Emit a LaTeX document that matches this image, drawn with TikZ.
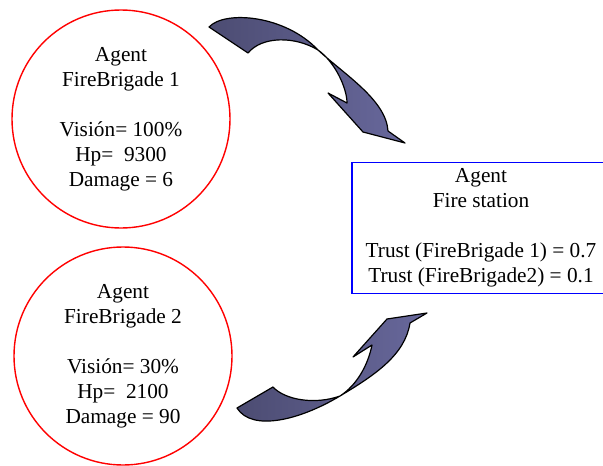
\documentclass[tikz,border=0pt]{standalone}
\usepackage{fontspec}
\setmainfont{Liberation Serif}
\usetikzlibrary{positioning}

\definecolor{arrowdark}{RGB}{76,76,114}
\definecolor{arrowlight}{RGB}{104,104,156}

\begin{document}
\begin{tikzpicture}[
  x=1pt, y=-1pt,
  agent/.style={circle, draw=red, line width=1.4pt, minimum size=218pt,
    inner sep=0pt, align=center, font=\fontsize{21.3}{25}\selectfont},
  station/.style={rectangle, draw=blue, line width=1.4pt, minimum width=258pt,
    minimum height=131pt, inner sep=0pt, align=center, font=\fontsize{21.3}{25}\selectfont},
  bendarrow/.style={draw=black, line width=1.2pt, line join=round,
    left color=arrowdark, right color=arrowlight}
]
  % page frame of the reference
  \clip (0,0) rectangle (603,466);

  % the two agents and the station
  \node[agent] (fb1) at (121,119)
    {Agent\\FireBrigade 1\\[25pt]Visión= 100\%\\Hp= \ 9300\\Damage = 6};
  \node[agent] (fb2) at (123,356)
    {Agent\\FireBrigade 2\\[25pt]Visión= 30\%\\Hp= \ 2100\\Damage = 90};
  \node[station] (st) at (481,228)
    {Agent\\Fire station\\[25pt]Trust (FireBrigade 1) = 0.7\\Trust (FireBrigade2) = 0.1};

  % curved block arrow from FireBrigade 1 to the station
  \path[bendarrow] (209,27) .. controls (225,10) and (285,15) .. (318,50)
    .. controls (345,75) and (386,100) .. (388,131)
    -- (405,143) -- (363,132) -- (328,93) -- (347,103)
    .. controls (347,88) and (335,62) .. (318,50)
    .. controls (295,36) and (262,36) .. (248,53) -- cycle;

  % curved block arrow from FireBrigade 2 to the station
  \path[bendarrow] (237,408) .. controls (252,432) and (300,420) .. (340,396)
    .. controls (375,375) and (405,355) .. (410,323)
    -- (427,313) -- (387,319) -- (353,357) -- (372,345)
    .. controls (368,365) and (357,385) .. (340,396)
    .. controls (315,405) and (285,400) .. (273,387) -- cycle;
\end{tikzpicture}
\end{document}
